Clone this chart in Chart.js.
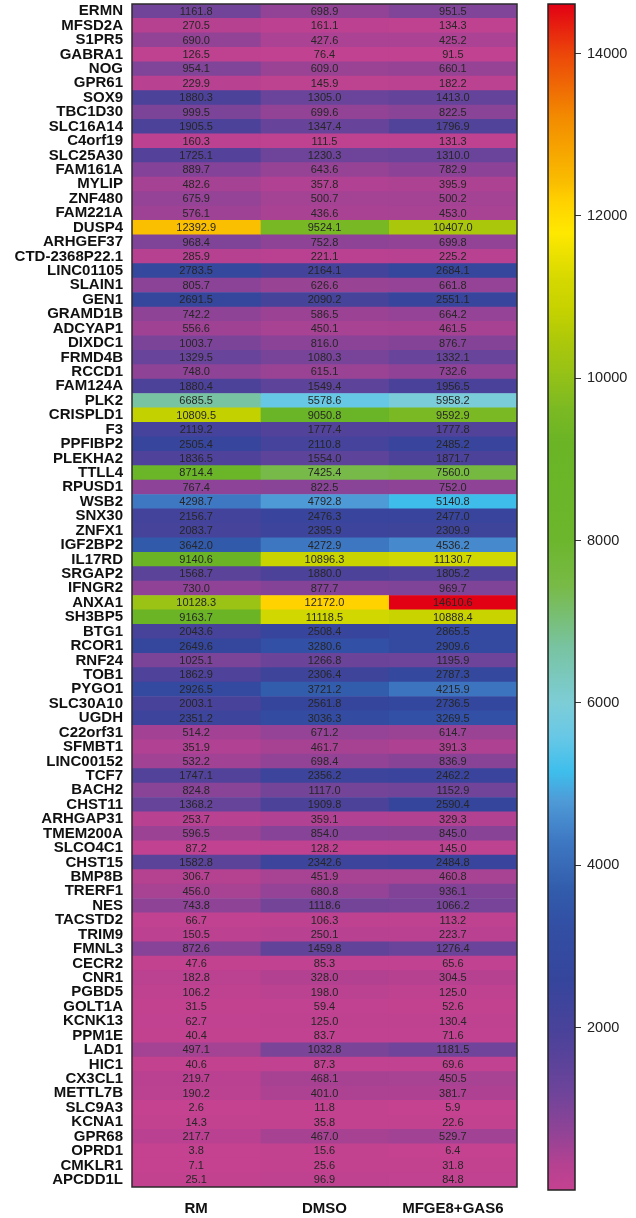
<!DOCTYPE html>
<html>
<head>
<meta charset="utf-8">
<script src="https://cdn.jsdelivr.net/npm/chart.js@4.4.1/dist/chart.umd.min.js"></script>
<style>
  html, body { margin: 0; padding: 0; background: #ffffff; }
  #wrap { position: relative; width: 636px; height: 1218px; overflow: hidden; }
  #heat { position: absolute; left: 0; top: 0; }
  #bar { position: absolute; left: 520px; top: 0; }
</style>
</head>
<body>
<div id="wrap">
  <canvas id="heat" width="520" height="1218"></canvas>
  <canvas id="bar" width="116" height="1218"></canvas>
</div>
<script>
// ---------- DATA ----------
const genes = ["ERMN","MFSD2A","S1PR5","GABRA1","NOG","GPR61","SOX9","TBC1D30","SLC16A14","C4orf19",
  "SLC25A30","FAM161A","MYLIP","ZNF480","FAM221A","DUSP4","ARHGEF37","CTD-2368P22.1","LINC01105","SLAIN1",
  "GEN1","GRAMD1B","ADCYAP1","DIXDC1","FRMD4B","RCCD1","FAM124A","PLK2","CRISPLD1","F3",
  "PPFIBP2","PLEKHA2","TTLL4","RPUSD1","WSB2","SNX30","ZNFX1","IGF2BP2","IL17RD","SRGAP2",
  "IFNGR2","ANXA1","SH3BP5","BTG1","RCOR1","RNF24","TOB1","PYGO1","SLC30A10","UGDH",
  "C22orf31","SFMBT1","LINC00152","TCF7","BACH2","CHST11","ARHGAP31","TMEM200A","SLCO4C1","CHST15",
  "BMP8B","TRERF1","NES","TACSTD2","TRIM9","FMNL3","CECR2","CNR1","PGBD5","GOLT1A",
  "KCNK13","PPM1E","LAD1","HIC1","CX3CL1","METTL7B","SLC9A3","KCNA1","GPR68","OPRD1",
  "CMKLR1","APCDD1L"];

const columns = ["RM", "DMSO", "MFGE8+GAS6"];

const valuesRM = [1161.8,270.5,690.0,126.5,954.1,229.9,1880.3,999.5,1905.5,160.3,
  1725.1,889.7,482.6,675.9,576.1,12392.9,968.4,285.9,2783.5,805.7,
  2691.5,742.2,556.6,1003.7,1329.5,748.0,1880.4,6685.5,10809.5,2119.2,
  2505.4,1836.5,8714.4,767.4,4298.7,2156.7,2083.7,3642.0,9140.6,1568.7,
  730.0,10128.3,9163.7,2043.6,2649.6,1025.1,1862.9,2926.5,2003.1,2351.2,
  514.2,351.9,532.2,1747.1,824.8,1368.2,253.7,596.5,87.2,1582.8,
  306.7,456.0,743.8,66.7,150.5,872.6,47.6,182.8,106.2,31.5,
  62.7,40.4,497.1,40.6,219.7,190.2,2.6,14.3,217.7,3.8,
  7.1,25.1];

const valuesDMSO = [698.9,161.1,427.6,76.4,609.0,145.9,1305.0,699.6,1347.4,111.5,
  1230.3,643.6,357.8,500.7,436.6,9524.1,752.8,221.1,2164.1,626.6,
  2090.2,586.5,450.1,816.0,1080.3,615.1,1549.4,5578.6,9050.8,1777.4,
  2110.8,1554.0,7425.4,822.5,4792.8,2476.3,2395.9,4272.9,10896.3,1880.0,
  877.7,12172.0,11118.5,2508.4,3280.6,1266.8,2306.4,3721.2,2561.8,3036.3,
  671.2,461.7,698.4,2356.2,1117.0,1909.8,359.1,854.0,128.2,2342.6,
  451.9,680.8,1118.6,106.3,250.1,1459.8,85.3,328.0,198.0,59.4,
  125.0,83.7,1032.8,87.3,468.1,401.0,11.8,35.8,467.0,15.6,
  25.6,96.9];

const valuesMFGE = [951.5,134.3,425.2,91.5,660.1,182.2,1413.0,822.5,1796.9,131.3,
  1310.0,782.9,395.9,500.2,453.0,10407.0,699.8,225.2,2684.1,661.8,
  2551.1,664.2,461.5,876.7,1332.1,732.6,1956.5,5958.2,9592.9,1777.8,
  2485.2,1871.7,7560.0,752.0,5140.8,2477.0,2309.9,4536.2,11130.7,1805.2,
  969.7,14610.6,10888.4,2865.5,2909.6,1195.9,2787.3,4215.9,2736.5,3269.5,
  614.7,391.3,836.9,2462.2,1152.9,2590.4,329.3,845.0,145.0,2484.8,
  460.8,936.1,1066.2,113.2,223.7,1276.4,65.6,304.5,125.0,52.6,
  130.4,71.6,1181.5,69.6,450.5,381.7,5.9,22.6,529.7,6.4,
  31.8,84.8];

const colorbarTicks = [2000, 4000, 6000, 8000, 10000, 12000, 14000];
const colorMin = 0;
const colorMax = 14610.6;

// colour map stops [value, r, g, b]
const colorStops = [
  [0, 196, 66, 144], [300, 182, 65, 145], [700, 146, 67, 150], [1200, 110, 68, 154],
  [1900, 76, 66, 154], [2600, 53, 69, 156], [3300, 50, 80, 165], [3700, 50, 92, 172],
  [4300, 62, 120, 195], [4800, 78, 155, 215], [5150, 62, 190, 236], [5600, 105, 200, 230],
  [6000, 125, 205, 215], [6700, 120, 195, 160], [7450, 120, 186, 70], [8000, 108, 182, 45],
  [9200, 106, 180, 38], [9600, 122, 185, 35], [10150, 155, 195, 20], [10450, 172, 200, 10],
  [10850, 198, 210, 0], [11200, 212, 216, 0], [11800, 255, 232, 0], [12200, 255, 208, 0],
  [12400, 250, 190, 0], [13200, 243, 140, 0], [14000, 236, 70, 10], [14611, 226, 0, 20]
];

function colorFor(v) {
  if (v <= colorStops[0][0]) { const s = colorStops[0]; return `rgb(${s[1]},${s[2]},${s[3]})`; }
  for (let i = 1; i < colorStops.length; i++) {
    const a = colorStops[i - 1], b = colorStops[i];
    if (v <= b[0]) {
      const t = (v - a[0]) / (b[0] - a[0]);
      const r = Math.round(a[1] + (b[1] - a[1]) * t);
      const g = Math.round(a[2] + (b[2] - a[2]) * t);
      const bl = Math.round(a[3] + (b[3] - a[3]) * t);
      return `rgb(${r},${g},${bl})`;
    }
  }
  const s = colorStops[colorStops.length - 1];
  return `rgb(${s[1]},${s[2]},${s[3]})`;
}

const allValues = [valuesRM, valuesDMSO, valuesMFGE];
const FONT = "'Liberation Sans', Arial, Helvetica, sans-serif";

function noEdgePadding(scale) {
  scale.paddingTop = 0;
  scale.paddingBottom = 0;
}

// ---------- HEATMAP ----------
const cellLabels = {
  id: 'cellLabels',
  afterDatasetsDraw(chart) {
    const ctx = chart.ctx;
    ctx.save();
    ctx.font = `11px ${FONT}`;
    ctx.fillStyle = '#262626';
    ctx.textAlign = 'center';
    ctx.textBaseline = 'middle';
    chart.data.datasets.forEach((ds, d) => {
      const meta = chart.getDatasetMeta(d);
      meta.data.forEach((el, i) => {
        const p = el.getCenterPoint();
        ctx.fillText(allValues[d][i].toFixed(1), p.x, p.y + 0.5);
      });
    });
    const ca = chart.chartArea;
    ctx.strokeStyle = '#2b2b2b';
    ctx.lineWidth = 1.5;
    ctx.strokeRect(ca.left, ca.top, ca.right - ca.left, ca.bottom - ca.top);
    ctx.restore();
  }
};

new Chart(document.getElementById('heat'), {
  type: 'bar',
  data: {
    labels: genes,
    datasets: columns.map((col, c) => ({
      label: col,
      data: genes.map(() => [c, c + 1]),
      backgroundColor: allValues[c].map(colorFor),
      borderWidth: 0,
      barPercentage: 1.0,
      categoryPercentage: 1.0,
      grouped: false
    }))
  },
  options: {
    indexAxis: 'y',
    responsive: false,
    animation: false,
    devicePixelRatio: 1,
    layout: { padding: { top: 4, right: 3, left: 0, bottom: 0 } },
    plugins: { legend: { display: false }, tooltip: { enabled: false } },
    scales: {
      x: {
        type: 'linear', min: 0, max: 3,
        grid: { display: false, drawTicks: false },
        border: { display: false },
        afterBuildTicks: (scale) => { scale.ticks = [0.5, 1.5, 2.5].map(v => ({ value: v })); },
        afterFit: (scale) => { scale.height = 31; },
        ticks: {
          autoSkip: false, maxRotation: 0, padding: 13,
          color: '#111',
          font: { family: FONT, size: 15, weight: 'bold' },
          callback: (v) => columns[Math.floor(v)]
        }
      },
      y: {
        type: 'category',
        grid: { display: false, drawTicks: false },
        border: { display: false },
        afterFit: (scale) => { scale.width = 132; noEdgePadding(scale); },
        ticks: {
          autoSkip: false, padding: 9,
          color: '#111',
          font: { family: FONT, size: 15, weight: 'bold', lineHeight: 1 }
        }
      }
    }
  },
  plugins: [cellLabels]
});

// ---------- COLOR BAR ----------
const barBorder = {
  id: 'barBorder',
  afterDatasetsDraw(chart) {
    const ctx = chart.ctx, ca = chart.chartArea;
    ctx.save();
    ctx.strokeStyle = '#222';
    ctx.lineWidth = 1.5;
    ctx.strokeRect(ca.left, ca.top, ca.right - ca.left, ca.bottom - ca.top);
    ctx.restore();
  }
};

new Chart(document.getElementById('bar'), {
  type: 'bar',
  data: {
    labels: [''],
    datasets: [{
      data: [[colorMin, colorMax]],
      borderWidth: 0,
      barPercentage: 1.0,
      categoryPercentage: 1.0,
      backgroundColor: (ctx) => {
        const chart = ctx.chart;
        const ca = chart.chartArea;
        if (!ca) return 'rgb(196,66,144)';
        const ys = chart.scales.y;
        const y0 = ys.getPixelForValue(colorMin), y1 = ys.getPixelForValue(colorMax);
        const g = chart.ctx.createLinearGradient(0, y0, 0, y1);
        colorStops.forEach(s => {
          const f = Math.min(1, Math.max(0, (s[0] - colorMin) / (colorMax - colorMin)));
          g.addColorStop(f, `rgb(${s[1]},${s[2]},${s[3]})`);
        });
        return g;
      }
    }]
  },
  options: {
    responsive: false,
    animation: false,
    devicePixelRatio: 1,
    layout: { padding: { top: 4, left: 28, right: 0, bottom: 28 } },
    plugins: { legend: { display: false }, tooltip: { enabled: false } },
    scales: {
      x: { display: false },
      y: {
        type: 'linear', position: 'right', min: colorMin, max: colorMax,
        afterBuildTicks: (scale) => { scale.ticks = colorbarTicks.map(v => ({ value: v })); },
        afterFit: (scale) => { scale.width = 61; noEdgePadding(scale); },
        grid: { display: true, drawOnChartArea: false, drawTicks: true, tickLength: 6, color: '#333', lineWidth: 1 },
        border: { display: false },
        ticks: {
          padding: 6, color: '#222',
          font: { family: FONT, size: 14.5 },
          callback: (v) => String(v)
        }
      }
    }
  },
  plugins: [barBorder]
});
</script>
</body>
</html>
